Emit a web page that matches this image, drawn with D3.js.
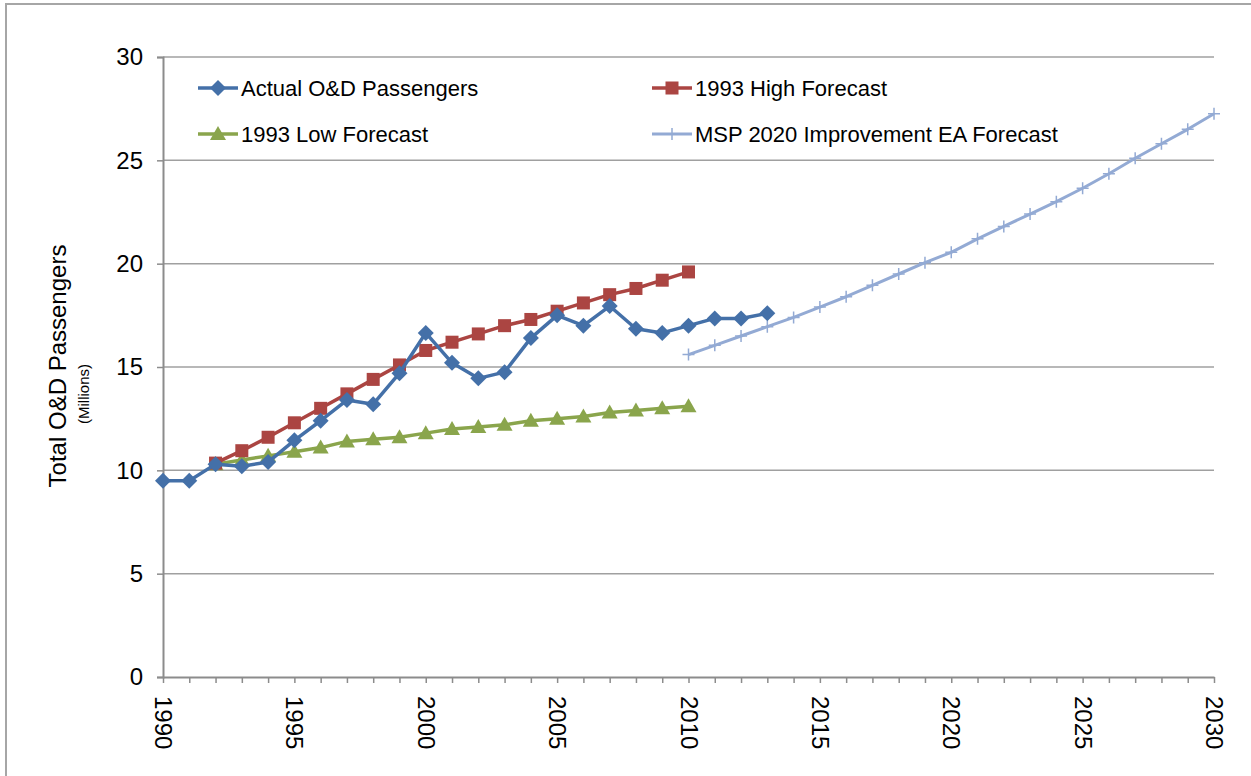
<!DOCTYPE html>
<html>
<head>
<meta charset="utf-8">
<script src="https://cdn.jsdelivr.net/npm/d3@7"></script>
<style>
  body { margin: 0; background: #fff; }
  text { font-family: "Liberation Sans", Arial, sans-serif; fill: #000; }
</style>
</head>
<body>
<svg id="chart" width="1251" height="776"></svg>
<script>
// data (millions of O&D passengers)
var actualYears = d3.range(1990, 2014);
var actualVals = [9.5, 9.5, 10.3, 10.2, 10.4, 11.45, 12.4, 13.4, 13.2, 14.7, 16.65, 15.2, 14.45, 14.75, 16.4, 17.5, 17.0, 17.95, 16.85, 16.65, 17.0, 17.35, 17.35, 17.6];

var forecastYears = d3.range(1992, 2011);
var highVals = [10.35, 10.95, 11.6, 12.3, 13.0, 13.7, 14.4, 15.1, 15.8, 16.2, 16.6, 17.0, 17.3, 17.7, 18.1, 18.5, 18.8, 19.2, 19.6];
var lowVals = [10.3, 10.5, 10.7, 10.9, 11.1, 11.4, 11.5, 11.6, 11.8, 12.0, 12.1, 12.2, 12.4, 12.5, 12.6, 12.8, 12.9, 13.0, 13.1];

var mspYears = d3.range(2010, 2031);
var mspVals = [15.6, 16.05, 16.5, 16.95, 17.4, 17.9, 18.4, 18.95, 19.5, 20.05, 20.55, 21.2, 21.8, 22.4, 23.0, 23.65, 24.35, 25.1, 25.8, 26.5, 27.25];

var yTicks = [0, 5, 10, 15, 20, 25, 30];
var xLabels = [1990, 1995, 2000, 2005, 2010, 2015, 2020, 2025, 2030];

var seriesNames = ["Actual O&D Passengers", "1993 High Forecast", "1993 Low Forecast", "MSP 2020 Improvement EA Forecast"];
var seriesColors = ["#4470a8", "#ab4542", "#8aa54c", "#93aad4"];

var svg = d3.select("#chart");
var margin = {top: 57, right: 37, bottom: 99, left: 163},
    width = 1251 - margin.left - margin.right,
    height = 776 - margin.top - margin.bottom;

// outer chart frame
svg.append("rect")
  .attr("x", 6).attr("y", 4)
  .attr("width", 1260).attr("height", 800)
  .attr("fill", "none").attr("stroke", "#a6a6a6").attr("stroke-width", 2);

var g = svg.append("g").attr("transform", "translate(" + margin.left + "," + margin.top + ")");

var x = d3.scaleLinear().domain([1990, 2030]).range([0, width]);
var y = d3.scaleLinear().domain([0, 30]).range([height, 0]);

// gridlines
g.selectAll(".grid").data(yTicks.slice(1)).enter().append("line")
  .attr("x1", 0).attr("x2", width)
  .attr("y1", d => y(d)).attr("y2", d => y(d))
  .attr("stroke", "#a0a0a0").attr("stroke-width", 1.5);

// y axis
var yAxis = g.append("g")
  .call(d3.axisLeft(y).tickValues(yTicks).tickSize(6).tickPadding(14).tickFormat(d3.format("d")));
yAxis.select(".domain").attr("stroke", "#8c8c8c").attr("stroke-width", 2);
yAxis.selectAll(".tick line").attr("stroke", "#8c8c8c").attr("stroke-width", 1.5);
yAxis.selectAll("text").style("font-size", "24px").attr("font-family", "Liberation Sans, Arial, sans-serif").attr("fill", "#000");

// x axis: a tick every year, label every 5
var xAxis = g.append("g")
  .attr("transform", "translate(0," + height + ")")
  .call(d3.axisBottom(x).tickValues(d3.range(1990, 2031)).tickSize(6).tickSizeOuter(0)
    .tickFormat(d => xLabels.indexOf(d) >= 0 ? d : ""));
xAxis.select(".domain").attr("stroke", "#8c8c8c").attr("stroke-width", 2);
xAxis.selectAll(".tick line").attr("stroke", "#8c8c8c").attr("stroke-width", 1.5);
xAxis.selectAll("text")
  .style("font-size", "24px").attr("font-family", "Liberation Sans, Arial, sans-serif").attr("fill", "#000")
  .attr("transform", "rotate(90)")
  .attr("text-anchor", "start")
  .attr("x", 19).attr("y", 0).attr("dy", "0.35em");

// y axis title
svg.append("text")
  .attr("transform", "translate(66,366) rotate(-90)")
  .attr("text-anchor", "middle")
  .style("font-size", "24px")
  .text("Total O&D Passengers");
svg.append("text")
  .attr("transform", "translate(89,394) rotate(-90)")
  .attr("text-anchor", "middle")
  .style("font-size", "15px")
  .text("(Millions)");

// markers
function drawMarker(sel, i) {
  var c = seriesColors[i];
  if (i === 0) {
    sel.append("path").attr("d", "M0,-8L8,0L0,8L-8,0Z").attr("fill", c);
  } else if (i === 1) {
    sel.append("rect").attr("x", -6.5).attr("y", -6.5).attr("width", 13).attr("height", 13).attr("fill", c);
  } else if (i === 2) {
    sel.append("path").attr("d", "M0,-8L8,6L-8,6Z").attr("fill", c);
  } else {
    sel.append("path").attr("d", "M-6,0H6M0,-6V6").attr("stroke", c).attr("stroke-width", 1.5);
  }
}

var line = d3.line().x(d => x(d[0])).y(d => y(d[1]));
var series = [
  d3.zip(actualYears, actualVals),
  d3.zip(forecastYears, highVals),
  d3.zip(forecastYears, lowVals),
  d3.zip(mspYears, mspVals)
];
var drawOrder = [3, 2, 1, 0];

drawOrder.forEach(function(i) {
  var pts = series[i];
  g.append("path").datum(pts)
    .attr("d", line)
    .attr("fill", "none")
    .attr("stroke", seriesColors[i])
    .attr("stroke-width", i === 3 ? 3 : 3.5)
    .attr("stroke-linejoin", "round");
  g.selectAll(".m" + i).data(pts).enter().append("g")
    .attr("class", "m" + i)
    .attr("transform", d => "translate(" + x(d[0]) + "," + y(d[1]) + ")")
    .each(function() { drawMarker(d3.select(this), i); });
});

// legend
var legendPos = [[198, 88], [652, 88], [198, 134], [652, 134]];
seriesNames.forEach(function(name, i) {
  var lg = svg.append("g").attr("transform", "translate(" + legendPos[i][0] + "," + legendPos[i][1] + ")");
  lg.append("line").attr("x1", 0).attr("x2", 40).attr("y1", 0).attr("y2", 0)
    .attr("stroke", seriesColors[i]).attr("stroke-width", i === 3 ? 3 : 3.5);
  drawMarker(lg.append("g").attr("transform", "translate(20,0)"), i);
  lg.append("text").attr("x", 43).attr("y", 0).attr("dy", "0.35em")
    .style("font-size", "22px").text(name);
});
</script>
</body>
</html>
